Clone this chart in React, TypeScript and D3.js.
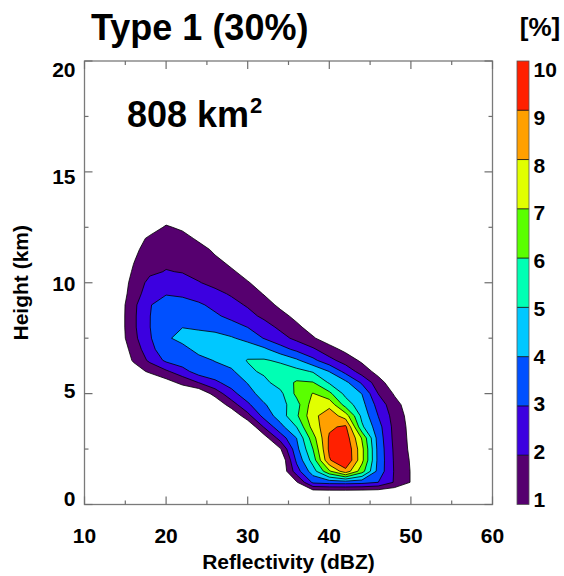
import React, { useMemo } from 'react';
import * as d3 from 'd3';

// ---- data (frequency in %, rows = height bins, columns = reflectivity bins) ----
const dbzCenters = [14, 16, 18, 20, 22, 24, 26, 28, 30, 32, 34, 36, 38, 40, 42, 44, 46, 48, 50, 52];
const heightCenters = [0.5, 1, 1.5, 2, 2.5, 3, 3.5, 4, 4.5, 5, 5.5, 6, 6.5, 7, 7.5, 8, 8.5, 9, 9.5, 10, 10.5, 11, 11.5, 12, 12.5, 13];

const freqByHeight: number[][] = [
  /* 0.5 */ [0, 0, 0, 0, 0, 0, 0, 0, 0, 0, 0, 0, 0, 0, 0, 0, 0, 0, 0, 0],
  /* 1.0 */ [0, 0, 0, 0, 0, 0, 0, 0, 0, 0, 0, 0.9, 3.2, 3.4, 3.45, 3.35, 3.0, 1.9, 0.95, 0],
  /* 1.5 */ [0, 0, 0, 0, 0, 0, 0, 0, 0, 0, 0, 2.56, 4.53, 6.83, 8.65, 6.44, 3.64, 1.9, 0.95, 0],
  /* 2.0 */ [0, 0, 0, 0, 0, 0, 0, 0, 0, 0, 0, 3.22, 5.44, 8.9, 10.05, 7.3, 3.7, 1.86, 0.9, 0],
  /* 2.5 */ [0, 0, 0, 0, 0, 0, 0, 0, 0, 0, 0.9, 3.7, 6.0, 9.2, 9.95, 7.3, 3.67, 1.8, 0.8, 0],
  /* 3.0 */ [0, 0, 0, 0, 0, 0, 0, 0, 0, 0.5, 2.45, 4.02, 6.57, 9.15, 9.6, 6.9, 3.56, 1.71, 0.76, 0],
  /* 3.5 */ [0, 0, 0, 0, 0, 0, 0, 0, 0, 2.09, 3.67, 5.02, 7.4, 8.82, 9.2, 5.2, 3.38, 1.67, 0.71, 0],
  /* 4.0 */ [0, 0, 0, 0, 0, 0, 0, 0, 1.67, 3.33, 4.5, 5.83, 7.71, 8.59, 7.5, 4.71, 2.98, 1.57, 0.62, 0],
  /* 4.5 */ [0, 0, 0, 0, 0, 0, 0.07, 1.5, 2.81, 3.9, 4.59, 5.63, 7.49, 7.7, 5.56, 4.35, 2.6, 1.36, 0.45, 0],
  /* 5.0 */ [0, 0, 0, 0, 0, 0.13, 1.38, 2.67, 3.6, 4.44, 4.75, 6.25, 7.05, 6.25, 4.71, 3.98, 1.98, 0.89, 0, 0],
  /* 5.5 */ [0, 0, 0, 0.57, 1.29, 2.02, 2.8, 3.4, 4.05, 4.74, 5.44, 6.13, 6.05, 4.88, 4.25, 2.83, 1.44, 0.33, 0, 0],
  /* 6.0 */ [0, 0.5, 1.17, 1.83, 2.6, 3.5, 3.6, 3.8, 4.8, 5.17, 5.51, 5.33, 4.91, 3.98, 2.67, 1.55, 0.64, 0, 0, 0],
  /* 6.5 */ [0, 1.11, 2.21, 3.2, 3.6, 3.7, 4.05, 4.5, 5.05, 5.1, 4.83, 4.17, 3.25, 2.32, 1.54, 0.82, 0.11, 0, 0, 0],
  /* 7.0 */ [0.2, 1.35, 2.7, 3.6, 3.7, 4.3, 4.65, 4.7, 4.55, 4.2, 3.4, 2.75, 2.15, 1.35, 0.75, 0.3, 0.05, 0, 0, 0],
  /* 7.5 */ [0.3, 1.7, 2.9, 3.85, 4.3, 4.4, 4.35, 4.1, 3.7, 2.95, 2.35, 1.75, 1.1, 0.5, 0.1, 0, 0, 0, 0, 0],
  /* 8.0 */ [0.3, 1.8, 2.98, 3.75, 3.98, 3.85, 3.7, 3.4, 2.98, 2.4, 1.8, 1.2, 0.6, 0.2, 0, 0, 0, 0, 0, 0],
  /* 8.5 */ [0.3, 1.8, 2.98, 3.6, 3.8, 3.55, 3.15, 2.75, 2.3, 1.8, 1.3, 0.75, 0.35, 0.1, 0, 0, 0, 0, 0, 0],
  /* 9.0 */ [0.3, 1.75, 2.95, 3.4, 3.35, 3.15, 2.75, 2.3, 1.9, 1.4, 0.8, 0.4, 0.1, 0, 0, 0, 0, 0, 0, 0],
  /* 9.5 */ [0.3, 1.45, 2.6, 2.95, 2.85, 2.55, 2.25, 1.9, 1.5, 0.95, 0.55, 0.2, 0, 0, 0, 0, 0, 0, 0, 0],
  /* 10.0 */ [0.3, 1.3, 2.3, 2.55, 2.4, 2.05, 1.75, 1.4, 1.05, 0.7, 0.35, 0.1, 0, 0, 0, 0, 0, 0, 0, 0],
  /* 10.5 */ [0.3, 1.1, 1.8, 2.05, 1.95, 1.7, 1.4, 1.1, 0.75, 0.4, 0.1, 0, 0, 0, 0, 0, 0, 0, 0, 0],
  /* 11.0 */ [0.3, 0.95, 1.55, 1.8, 1.75, 1.5, 1.15, 0.8, 0.45, 0.15, 0, 0, 0, 0, 0, 0, 0, 0, 0, 0],
  /* 11.5 */ [0.2, 0.8, 1.35, 1.6, 1.55, 1.3, 0.85, 0.5, 0.2, 0, 0, 0, 0, 0, 0, 0, 0, 0, 0, 0],
  /* 12.0 */ [0.1, 0.6, 1.15, 1.4, 1.3, 0.85, 0.5, 0.2, 0, 0, 0, 0, 0, 0, 0, 0, 0, 0, 0, 0],
  /* 12.5 */ [0, 0.3, 0.6, 1.1, 0.85, 0.5, 0.2, 0, 0, 0, 0, 0, 0, 0, 0, 0, 0, 0, 0, 0],
  /* 13.0 */ [0, 0, 0.4, 0.6, 0.5, 0.2, 0, 0, 0, 0, 0, 0, 0, 0, 0, 0, 0, 0, 0, 0],
];

const levels = [1, 2, 3, 4, 5, 6, 7, 8, 9, 10];
const levelColors = ['#56006F', '#3C00E0', '#0050FF', '#00C8FF', '#00FFB4', '#5AFF00', '#E1FF00', '#FFA000', '#FF2000'];
const xTickValues = [10, 20, 30, 40, 50, 60];
const xMinorValues = [15, 25, 35, 45, 55];
const yTickValues = [0, 5, 10, 15, 20];
const yMinorValues = [2.5, 7.5, 12.5, 17.5];
const cbarLabels = [1, 2, 3, 4, 5, 6, 7, 8, 9, 10];

const titleText = 'Type 1 (30%)';
const areaText = '808 km';
const unitText = '[%]';

// ---- layout ----
const W = 564;
const H = 576;
const P = { left: 84.5, right: 492.5, top: 61, bottom: 504.5 };
const CB = { x: 517, w: 12 };
const FONT = '"Liberation Sans", Arial, Helvetica, sans-serif';

export default function App() {
  const xScale = d3.scaleLinear().domain([10, 60]).range([P.left, P.right]);
  const yScale = d3.scaleLinear().domain([0, 20]).range([P.bottom, P.top]);
  const yLabelPos = d3.scaleLinear().domain([0, 20]).range([498, 69.5]);
  const cbScale = d3.scaleLinear().domain([1, 10]).range([P.bottom, P.top]);
  const cbLabelPos = d3.scaleLinear().domain([1, 10]).range([499.5, 69.5]);

  const paths = useMemo(() => {
    const nx = dbzCenters.length;
    const ny = heightCenters.length;
    const flat: number[] = [];
    for (let j = 0; j < ny; j++) for (let i = 0; i < nx; i++) flat.push(freqByHeight[j][i]);
    const d0 = dbzCenters[0];
    const dStep = dbzCenters[1] - dbzCenters[0];
    const h0 = heightCenters[0];
    const hStep = heightCenters[1] - heightCenters[0];
    const proj = d3.geoTransform({
      point: function (this: any, x: number, y: number) {
        this.stream.point(xScale(d0 + dStep * (x - 0.5)), yScale(h0 + hStep * (y - 0.5)));
      },
    });
    const gen = d3.geoPath(proj);
    const cs = d3.contours().size([nx, ny]).thresholds(levels.slice(0, 9))(flat);
    return cs.map((c, k) => ({ d: gen(c as any) || '', color: levelColors[k] }));
  }, []);

  const tickColor = '#6e6e6e';

  return (
    <svg width={W} height={H} style={{ position: 'absolute', left: 0, top: 0, background: '#fff' }} fontFamily={FONT}>
      <rect x={0} y={0} width={W} height={H} fill="#fff" />
      <defs>
        <clipPath id="plotClip">
          <rect x={P.left} y={P.top} width={P.right - P.left} height={P.bottom - P.top} />
        </clipPath>
      </defs>

      <g clipPath="url(#plotClip)">
        {paths.map((p, k) => (
          <path key={k} d={p.d} fill={p.color} stroke="#000" strokeWidth={0.8} strokeLinejoin="round" />
        ))}
      </g>

      {/* frame */}
      <rect x={P.left} y={P.top} width={P.right - P.left} height={P.bottom - P.top} fill="none" stroke="#7a7a7a" strokeWidth={1.3} />

      {/* x ticks */}
      {xTickValues.map((v) => (
        <g key={'xt' + v}>
          <line x1={xScale(v)} x2={xScale(v)} y1={P.bottom} y2={P.bottom - 8} stroke={tickColor} strokeWidth={1.2} />
          <line x1={xScale(v)} x2={xScale(v)} y1={P.top} y2={P.top + 8} stroke={tickColor} strokeWidth={1.2} />
          <text x={xScale(v)} y={543} textAnchor="middle" fontSize={21} fontWeight="bold" fill="#000">{v}</text>
        </g>
      ))}
      {xMinorValues.map((v) => (
        <g key={'xm' + v}>
          <line x1={xScale(v)} x2={xScale(v)} y1={P.bottom} y2={P.bottom - 4} stroke={tickColor} strokeWidth={1.2} />
          <line x1={xScale(v)} x2={xScale(v)} y1={P.top} y2={P.top + 4} stroke={tickColor} strokeWidth={1.2} />
        </g>
      ))}

      {/* y ticks */}
      {yTickValues.map((v) => (
        <g key={'yt' + v}>
          <line x1={P.left} x2={P.left + 8} y1={yScale(v)} y2={yScale(v)} stroke={tickColor} strokeWidth={1.2} />
          <line x1={P.right} x2={P.right - 8} y1={yScale(v)} y2={yScale(v)} stroke={tickColor} strokeWidth={1.2} />
          <text x={75.5} y={yLabelPos(v) + 7.5} textAnchor="end" fontSize={21} fontWeight="bold" fill="#000">{v}</text>
        </g>
      ))}
      {yMinorValues.map((v) => (
        <g key={'ym' + v}>
          <line x1={P.left} x2={P.left + 4} y1={yScale(v)} y2={yScale(v)} stroke={tickColor} strokeWidth={1.2} />
          <line x1={P.right} x2={P.right - 4} y1={yScale(v)} y2={yScale(v)} stroke={tickColor} strokeWidth={1.2} />
        </g>
      ))}

      {/* axis titles */}
      <text x={(P.left + P.right) / 2} y={569} textAnchor="middle" fontSize={21} fontWeight="bold" fill="#000">Reflectivity (dBZ)</text>
      <text transform={`translate(28,${(P.top + P.bottom) / 2}) rotate(-90)`} textAnchor="middle" fontSize={21} fontWeight="bold" fill="#000">Height (km)</text>

      {/* title & annotation */}
      <text x={91} y={39.5} fontSize={36} fontWeight="bold" fill="#000">{titleText}</text>
      <text x={127} y={127} fontSize={36} fontWeight="bold" fill="#000">
        {areaText}
        <tspan dx={1} dy={-14} fontSize={22}>2</tspan>
      </text>

      {/* colour bar */}
      {levelColors.map((c, k) => (
        <rect key={'cb' + k} x={CB.x} y={cbScale(levels[k + 1])} width={CB.w} height={cbScale(levels[k]) - cbScale(levels[k + 1])} fill={c} />
      ))}
      {levels.slice(1, 9).map((v) => (
        <line key={'cbl' + v} x1={CB.x} x2={CB.x + CB.w} y1={cbScale(v)} y2={cbScale(v)} stroke="#000" strokeWidth={0.8} />
      ))}
      <rect x={CB.x} y={P.top} width={CB.w} height={P.bottom - P.top} fill="none" stroke="#555" strokeWidth={0.8} />
      {cbarLabels.map((v) => (
        <text key={'cbt' + v} x={533.5} y={cbLabelPos(v) + 7.5} fontSize={21} fontWeight="bold" fill="#000">{v}</text>
      ))}
      <text x={540} y={36} textAnchor="middle" fontSize={26} fontWeight="bold" fill="#000">{unitText}</text>
    </svg>
  );
}
